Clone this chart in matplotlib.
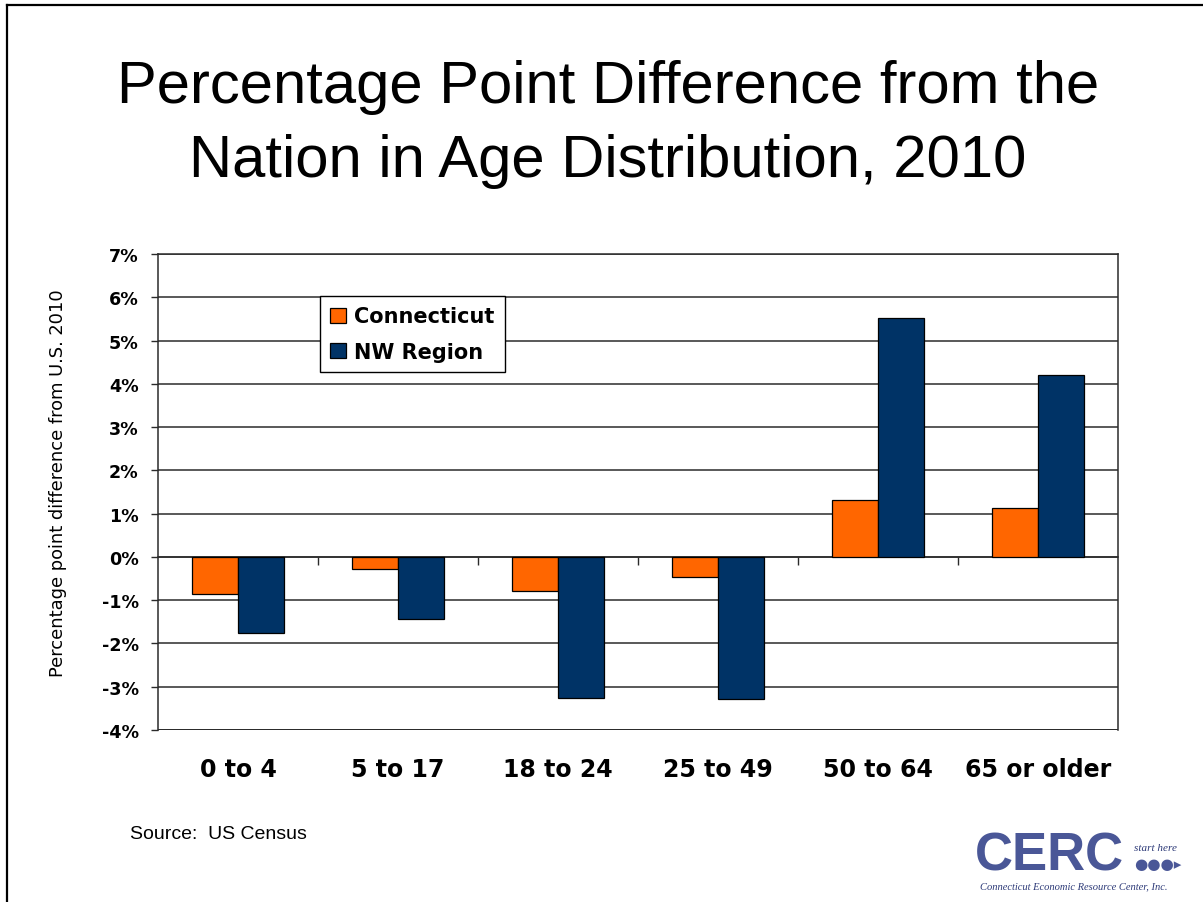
import matplotlib
matplotlib.use('Agg')
import matplotlib.pyplot as plt
from matplotlib.lines import Line2D
from matplotlib.patches import Patch
import matplotlib.transforms as mtransforms
import numpy as np

# data
age_groups = ['0 to 4', '5 to 17', '18 to 24', '25 to 49', '50 to 64', '65 or older']
connecticut = [-0.86, -0.28, -0.78, -0.47, 1.32, 1.12]
nw_region = [-1.76, -1.43, -3.25, -3.28, 5.52, 4.20]
y_ticks = [-4, -3, -2, -1, 0, 1, 2, 3, 4, 5, 6, 7]

orange = '#FF6600'
navy = '#003366'
grid_col = '#2b2b2b'

W, H = 1203, 903
fig = plt.figure(figsize=(W / 100, H / 100), dpi=100)
fig.patch.set_facecolor('white')

# plot area in pixels: x 158..1118, y 255..731
ax = fig.add_axes([158 / W, 1 - 731 / H, 960 / W, 476 / H])

x = np.arange(len(age_groups))
bw = 1 / 3.5  # gap width 150%
ax.bar(x - bw / 2, connecticut, bw, color=orange, edgecolor='black', linewidth=0.9, zorder=3)
ax.bar(x + bw / 2, nw_region, bw, color=navy, edgecolor='black', linewidth=0.9, zorder=3)

ax.set_xlim(-0.5, len(age_groups) - 0.5)
ax.set_ylim(-4, 7)

ax.set_yticks(y_ticks)
ax.set_yticklabels([f'{v}%' for v in y_ticks], fontsize=12.6, fontweight='bold',
                   family='DejaVu Sans')
ax.tick_params(axis='y', direction='out', length=5, width=1, color=grid_col, pad=9)
ax.yaxis.grid(True, color=grid_col, linewidth=1.1, zorder=0)

# category axis crosses at 0, ticks between groups
ax.spines['bottom'].set_position(('data', 0))
ax.spines['bottom'].set_color(grid_col)
ax.set_xticks(np.arange(0.5, len(age_groups) - 1, 1.0))
ax.set_xticklabels([])
ax.tick_params(axis='x', direction='out', length=6, width=1, color=grid_col)
for s in ['left', 'right', 'top']:
    ax.spines[s].set_color(grid_col)
    ax.spines[s].set_linewidth(1.1)
ax.spines['bottom'].set_linewidth(1.1)
ax.axhline(-4, color=grid_col, linewidth=1.4, zorder=4)

# category labels under the plot area
lab_tr = mtransforms.blended_transform_factory(ax.transData, fig.transFigure)
for i, name in enumerate(age_groups):
    ax.text(i, 1 - 777 / H, name, transform=lab_tr, ha='center', va='baseline',
            fontsize=17, fontweight='bold', family='DejaVu Sans')

fig.text(58 / W, 1 - 483 / H, 'Percentage point difference from U.S. 2010',
         rotation=90, ha='center', va='center', fontsize=12.9, family='DejaVu Sans')

handles = [Patch(facecolor=orange, edgecolor='black', linewidth=0.9),
           Patch(facecolor=navy, edgecolor='black', linewidth=0.9)]
leg = ax.legend(handles, ['Connecticut', 'NW Region'], loc='upper left',
                bbox_to_anchor=(320 / W, 1 - 297 / H), bbox_transform=fig.transFigure,
                borderaxespad=0, fancybox=False, frameon=True, framealpha=1,
                edgecolor='black', handlelength=0.75, handleheight=0.75,
                handletextpad=0.4, borderpad=0.5, labelspacing=0.75,
                prop={'family': 'DejaVu Sans', 'weight': 'bold', 'size': 15})
leg.get_frame().set_linewidth(1.0)
leg.set_zorder(6)

# title
fig.text(608 / W, 1 - 103 / H, 'Percentage Point Difference from the',
         ha='center', va='baseline', fontsize=43, family='Liberation Sans')
fig.text(608 / W, 1 - 177 / H, 'Nation in Age Distribution, 2010',
         ha='center', va='baseline', fontsize=43, family='Liberation Sans')

fig.text(130 / W, 1 - 835 / H, 'Source:  US Census', ha='left', va='center',
         fontsize=14, family='Liberation Sans')

# logo, approximated with text
logo_col = '#4a5797'
fig.text(975 / W, 1 - 871 / H, 'CERC', ha='left', va='baseline', fontsize=38,
         fontweight='bold', family='Liberation Sans', color=logo_col)
fig.text(1134 / W, 1 - 851 / H, 'start here', ha='left', va='baseline', fontsize=8,
         style='italic', family='Liberation Serif', color='#2d3a78')
fig.text(1134 / W, 1 - 869 / H, '●●●▸', ha='left', va='baseline', fontsize=11,
         family='DejaVu Sans', color=logo_col)
fig.text(980 / W, 1 - 889 / H, 'Connecticut Economic Resource Center, Inc.',
         ha='left', va='baseline', fontsize=7.6, style='italic',
         family='Liberation Serif', color='#2d3a78')

# slide border (left and top)
fig.add_artist(Line2D([7 / W, 7 / W], [0, 1 - 6 / H], transform=fig.transFigure,
                      color='black', linewidth=1.6))
fig.add_artist(Line2D([7 / W, 1], [1 - 6 / H, 1 - 6 / H], transform=fig.transFigure,
                      color='black', linewidth=1.6))

fig.savefig('out.png', dpi=100)
